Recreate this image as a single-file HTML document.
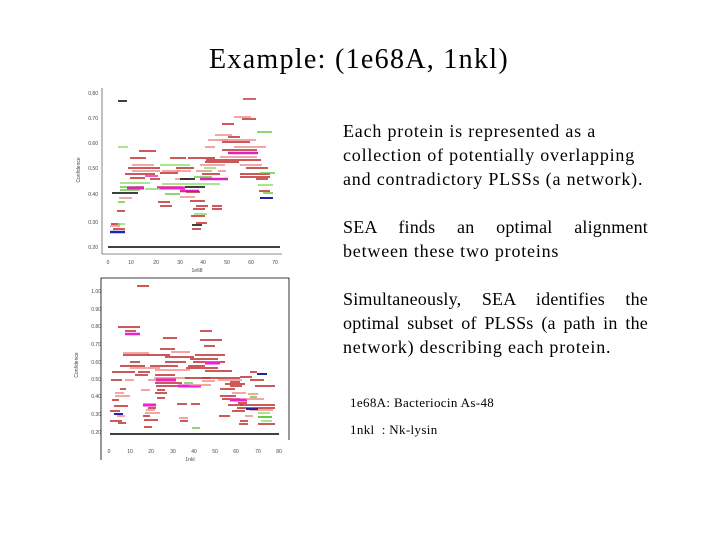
<!DOCTYPE html>
<html><head><meta charset="utf-8"><style>
body{margin:0;width:720px;height:540px;background:#fff;position:relative;overflow:hidden;font-family:"Liberation Serif",serif;color:#000}
.t{position:absolute;white-space:nowrap}
.l{position:absolute;left:343px;width:305px;font-size:18px;letter-spacing:0.8px;line-height:24px;white-space:nowrap}
.j{text-align:justify;text-align-last:justify;white-space:normal;letter-spacing:0.2px;height:24px;overflow:visible}
svg{position:absolute;left:0;top:0}
</style></head><body>
<div class="t" style="left:209px;top:44px;font-size:28px;letter-spacing:1.3px">Example: (1e68A, 1nkl)</div>
<div class="l" style="top:119px">Each protein is represented as a</div>
<div class="l" style="top:143px">collection of potentially overlapping</div>
<div class="l" style="top:167px">and contradictory PLSSs (a network).</div>
<div class="l j" style="top:215px">SEA finds an optimal alignment</div>
<div class="l" style="top:239px">between these two proteins</div>
<div class="l j" style="top:287px">Simultaneously, SEA identifies the</div>
<div class="l j" style="top:311px">optimal subset of PLSSs (a path in the</div>
<div class="l" style="top:335px">network) describing each protein.</div>
<div class="t" style="left:350px;top:395px;font-size:13px;letter-spacing:0.35px">1e68A: Bacteriocin As-48</div>
<div class="t" style="left:350px;top:422px;font-size:13px;letter-spacing:0.35px">1nkl &nbsp;: Nk-lysin</div>
<svg width="720" height="540" font-family="Liberation Sans,sans-serif" font-size="5" fill="#444">
<line x1="102" y1="88" x2="102" y2="254" stroke="#666" stroke-width="0.8"/>
<line x1="102" y1="254" x2="282" y2="254" stroke="#666" stroke-width="0.8"/>
<g text-anchor="end"><text x="98" y="95">0.80</text><text x="98" y="120">0.70</text><text x="98" y="145">0.60</text><text x="98" y="170">0.50</text><text x="98" y="196">0.40</text><text x="98" y="224">0.30</text><text x="98" y="249">0.20</text></g>
<g text-anchor="middle"><text x="108" y="264">0</text><text x="131" y="264">10</text><text x="156" y="264">20</text><text x="180" y="264">30</text><text x="203" y="264">40</text><text x="227" y="264">50</text><text x="251" y="264">60</text><text x="275" y="264">70</text><text x="197" y="272">1e68</text></g>
<text x="80" y="170" transform="rotate(-90 80 170)" text-anchor="middle">Confidence</text>
<g stroke-width="1.5">
<line x1="108" y1="247" x2="280" y2="247" stroke="#000"/>
<line x1="118" y1="101" x2="127" y2="101" stroke="#000"/>
<line x1="243" y1="99" x2="256" y2="99" stroke="#c33"/>
<line x1="234" y1="117" x2="251" y2="117" stroke="#e88"/>
<line x1="242" y1="119" x2="256" y2="119" stroke="#b22"/>
<line x1="222" y1="124" x2="234" y2="124" stroke="#b22"/>
<line x1="257" y1="132" x2="272" y2="132" stroke="#6c4"/>
<line x1="215" y1="135" x2="232" y2="135" stroke="#e88"/>
<line x1="228" y1="137" x2="240" y2="137" stroke="#b22"/>
<line x1="208" y1="140" x2="228" y2="140" stroke="#e88"/>
<line x1="219" y1="140" x2="256" y2="140" stroke="#e88"/>
<line x1="222" y1="142" x2="250" y2="142" stroke="#b22"/>
<line x1="118" y1="147" x2="128" y2="147" stroke="#8d6"/>
<line x1="205" y1="147" x2="215" y2="147" stroke="#e88"/>
<line x1="234" y1="147" x2="266" y2="147" stroke="#e88"/>
<line x1="139" y1="151" x2="156" y2="151" stroke="#b22"/>
<line x1="222" y1="150" x2="257" y2="150" stroke="#b22"/>
<line x1="228" y1="153" x2="258" y2="153" stroke="#d2b" stroke-width="2.5"/>
<line x1="220" y1="157" x2="257" y2="157" stroke="#e88"/>
<line x1="206" y1="160" x2="261" y2="160" stroke="#b22"/>
<line x1="130" y1="158" x2="146" y2="158" stroke="#b22"/>
<line x1="170" y1="158" x2="186" y2="158" stroke="#b22"/>
<line x1="188" y1="158" x2="215" y2="158" stroke="#b22"/>
<line x1="205" y1="162" x2="239" y2="162" stroke="#b22"/>
<line x1="132" y1="165" x2="154" y2="165" stroke="#e88"/>
<line x1="160" y1="165" x2="190" y2="165" stroke="#8d6"/>
<line x1="200" y1="165" x2="225" y2="165" stroke="#e88"/>
<line x1="240" y1="165" x2="262" y2="165" stroke="#e88"/>
<line x1="128" y1="168" x2="160" y2="168" stroke="#b22"/>
<line x1="176" y1="168" x2="194" y2="168" stroke="#b22"/>
<line x1="204" y1="168" x2="216" y2="168" stroke="#8d6"/>
<line x1="246" y1="168" x2="268" y2="168" stroke="#b22"/>
<line x1="132" y1="171" x2="160" y2="171" stroke="#e88"/>
<line x1="162" y1="171" x2="180" y2="171" stroke="#e88"/>
<line x1="175" y1="171" x2="191" y2="171" stroke="#e88"/>
<line x1="196" y1="171" x2="212" y2="171" stroke="#e88"/>
<line x1="218" y1="171" x2="226" y2="171" stroke="#e88"/>
<line x1="125" y1="174" x2="155" y2="174" stroke="#b22"/>
<line x1="160" y1="173" x2="178" y2="173" stroke="#b22"/>
<line x1="202" y1="174" x2="220" y2="174" stroke="#b22"/>
<line x1="240" y1="174" x2="270" y2="174" stroke="#b22"/>
<line x1="260" y1="173" x2="275" y2="173" stroke="#6c4"/>
<line x1="145" y1="176" x2="158" y2="176" stroke="#d2b"/>
<line x1="194" y1="177" x2="212" y2="177" stroke="#6c4"/>
<line x1="240" y1="177" x2="270" y2="177" stroke="#b22"/>
<line x1="130" y1="178" x2="145" y2="178" stroke="#b22"/>
<line x1="150" y1="179" x2="160" y2="179" stroke="#b22"/>
<line x1="175" y1="179" x2="190" y2="179" stroke="#e88"/>
<line x1="180" y1="179" x2="195" y2="179" stroke="#000"/>
<line x1="200" y1="179" x2="228" y2="179" stroke="#d2b" stroke-width="2.5"/>
<line x1="256" y1="179" x2="268" y2="179" stroke="#b22"/>
<line x1="120" y1="183" x2="150" y2="183" stroke="#8d6"/>
<line x1="162" y1="184" x2="195" y2="184" stroke="#8d6"/>
<line x1="195" y1="184" x2="220" y2="184" stroke="#8d6"/>
<line x1="258" y1="185" x2="273" y2="185" stroke="#8d6"/>
<line x1="120" y1="187" x2="135" y2="187" stroke="#6c4"/>
<line x1="135" y1="187" x2="144" y2="187" stroke="#b22"/>
<line x1="157" y1="187" x2="183" y2="187" stroke="#b22"/>
<line x1="185" y1="187" x2="205" y2="187" stroke="#000"/>
<line x1="127" y1="188" x2="144" y2="188" stroke="#d2b" stroke-width="3"/>
<line x1="157" y1="188" x2="185" y2="188" stroke="#e2c" stroke-width="3"/>
<line x1="120" y1="190" x2="140" y2="190" stroke="#6c4"/>
<line x1="145" y1="189" x2="160" y2="189" stroke="#8d6"/>
<line x1="180" y1="191" x2="199" y2="191" stroke="#d2b" stroke-width="2.5"/>
<line x1="186" y1="192" x2="200" y2="192" stroke="#b22"/>
<line x1="259" y1="191" x2="270" y2="191" stroke="#b22"/>
<line x1="263" y1="193" x2="273" y2="193" stroke="#6c4"/>
<line x1="112" y1="193" x2="138" y2="193" stroke="#000"/>
<line x1="165" y1="194" x2="180" y2="194" stroke="#6c4"/>
<line x1="119" y1="198" x2="132" y2="198" stroke="#e88"/>
<line x1="180" y1="197" x2="195" y2="197" stroke="#e88"/>
<line x1="260" y1="198" x2="273" y2="198" stroke="#22a" stroke-width="2"/>
<line x1="118" y1="202" x2="125" y2="202" stroke="#6c4"/>
<line x1="158" y1="202" x2="170" y2="202" stroke="#b22"/>
<line x1="190" y1="201" x2="205" y2="201" stroke="#b22"/>
<line x1="160" y1="206" x2="172" y2="206" stroke="#b22"/>
<line x1="196" y1="206" x2="208" y2="206" stroke="#b22"/>
<line x1="212" y1="206" x2="222" y2="206" stroke="#b22"/>
<line x1="193" y1="209" x2="205" y2="209" stroke="#b22"/>
<line x1="212" y1="209" x2="222" y2="209" stroke="#b22"/>
<line x1="117" y1="211" x2="125" y2="211" stroke="#b22"/>
<line x1="194" y1="214" x2="207" y2="214" stroke="#8d6"/>
<line x1="191" y1="216" x2="205" y2="216" stroke="#b22"/>
<line x1="111" y1="224" x2="120" y2="224" stroke="#b22"/>
<line x1="118" y1="224" x2="125" y2="224" stroke="#8d6"/>
<line x1="110" y1="226" x2="120" y2="226" stroke="#e88"/>
<line x1="192" y1="225" x2="202" y2="225" stroke="#000"/>
<line x1="196" y1="223" x2="207" y2="223" stroke="#b22"/>
<line x1="113" y1="229" x2="125" y2="229" stroke="#b22"/>
<line x1="192" y1="229" x2="201" y2="229" stroke="#b22"/>
<line x1="110" y1="232" x2="125" y2="232" stroke="#22a" stroke-width="2.5"/>
</g>
<polyline points="101,460 101,278 289,278 289,440" fill="none" stroke="#000" stroke-width="0.8"/>
<g text-anchor="end"><text x="101" y="293">1.00</text><text x="101" y="311">0.90</text><text x="101" y="328">0.80</text><text x="101" y="346">0.70</text><text x="101" y="364">0.60</text><text x="101" y="381">0.50</text><text x="101" y="398">0.40</text><text x="101" y="416">0.30</text><text x="101" y="434">0.20</text></g>
<g text-anchor="middle"><text x="109" y="453">0</text><text x="130" y="453">10</text><text x="151" y="453">20</text><text x="173" y="453">30</text><text x="194" y="453">40</text><text x="215" y="453">50</text><text x="236" y="453">60</text><text x="258" y="453">70</text><text x="279" y="453">80</text><text x="190" y="461">1nkl</text></g>
<text x="78" y="365" transform="rotate(-90 78 365)" text-anchor="middle">Confidence</text>
<g stroke-width="1.5">
<line x1="110" y1="434" x2="279" y2="434" stroke="#000"/>
<line x1="137" y1="286" x2="149" y2="286" stroke="#b22"/>
<line x1="118" y1="327" x2="140" y2="327" stroke="#b22"/>
<line x1="125" y1="331" x2="136" y2="331" stroke="#b22"/>
<line x1="125" y1="334" x2="140" y2="334" stroke="#e2c" stroke-width="2.5"/>
<line x1="200" y1="331" x2="212" y2="331" stroke="#b22"/>
<line x1="163" y1="338" x2="177" y2="338" stroke="#b22"/>
<line x1="200" y1="340" x2="222" y2="340" stroke="#b22"/>
<line x1="204" y1="346" x2="215" y2="346" stroke="#b22"/>
<line x1="160" y1="349" x2="175" y2="349" stroke="#b22"/>
<line x1="171" y1="352" x2="190" y2="352" stroke="#e88"/>
<line x1="123" y1="353" x2="149" y2="353" stroke="#e88"/>
<line x1="123" y1="355" x2="149" y2="355" stroke="#b22"/>
<line x1="148" y1="355" x2="170" y2="355" stroke="#b22"/>
<line x1="165" y1="357" x2="194" y2="357" stroke="#b22"/>
<line x1="195" y1="355" x2="225" y2="355" stroke="#b22"/>
<line x1="190" y1="359" x2="218" y2="359" stroke="#b22"/>
<line x1="193" y1="362" x2="225" y2="362" stroke="#b22"/>
<line x1="205" y1="363" x2="220" y2="363" stroke="#e2c" stroke-width="3"/>
<line x1="130" y1="362" x2="140" y2="362" stroke="#b22"/>
<line x1="165" y1="362" x2="186" y2="362" stroke="#b22"/>
<line x1="188" y1="366" x2="205" y2="366" stroke="#b22"/>
<line x1="120" y1="366" x2="145" y2="366" stroke="#b22"/>
<line x1="130" y1="368" x2="160" y2="368" stroke="#e88"/>
<line x1="150" y1="366" x2="178" y2="366" stroke="#b22"/>
<line x1="155" y1="370" x2="190" y2="370" stroke="#e88"/>
<line x1="186" y1="368" x2="218" y2="368" stroke="#b22"/>
<line x1="205" y1="371" x2="232" y2="371" stroke="#b22"/>
<line x1="112" y1="372" x2="135" y2="372" stroke="#b22"/>
<line x1="138" y1="372" x2="150" y2="372" stroke="#b22"/>
<line x1="250" y1="372" x2="257" y2="372" stroke="#b22"/>
<line x1="135" y1="375" x2="148" y2="375" stroke="#b22"/>
<line x1="155" y1="375" x2="175" y2="375" stroke="#b22"/>
<line x1="240" y1="377" x2="252" y2="377" stroke="#b22"/>
<line x1="257" y1="374" x2="267" y2="374" stroke="#22a" stroke-width="2"/>
<line x1="154" y1="378" x2="190" y2="378" stroke="#e88"/>
<line x1="185" y1="378" x2="210" y2="378" stroke="#b22"/>
<line x1="202" y1="378" x2="240" y2="378" stroke="#b22"/>
<line x1="125" y1="380" x2="134" y2="380" stroke="#e88"/>
<line x1="148" y1="380" x2="173" y2="380" stroke="#e88"/>
<line x1="202" y1="381" x2="215" y2="381" stroke="#e88"/>
<line x1="218" y1="380" x2="242" y2="380" stroke="#e88"/>
<line x1="155" y1="383" x2="182" y2="383" stroke="#b22"/>
<line x1="184" y1="383" x2="193" y2="383" stroke="#6c4"/>
<line x1="156" y1="380" x2="176" y2="380" stroke="#e2c" stroke-width="3"/>
<line x1="111" y1="380" x2="122" y2="380" stroke="#b22"/>
<line x1="250" y1="380" x2="264" y2="380" stroke="#b22"/>
<line x1="230" y1="382" x2="240" y2="382" stroke="#b22"/>
<line x1="156" y1="386" x2="190" y2="386" stroke="#b22"/>
<line x1="178" y1="386" x2="201" y2="386" stroke="#e2c" stroke-width="3"/>
<line x1="190" y1="385" x2="211" y2="385" stroke="#e88"/>
<line x1="225" y1="384" x2="245" y2="384" stroke="#b22"/>
<line x1="230" y1="386" x2="242" y2="386" stroke="#b22"/>
<line x1="220" y1="389" x2="235" y2="389" stroke="#b22"/>
<line x1="255" y1="386" x2="275" y2="386" stroke="#b22"/>
<line x1="120" y1="389" x2="126" y2="389" stroke="#b22"/>
<line x1="115" y1="393" x2="124" y2="393" stroke="#e88"/>
<line x1="141" y1="390" x2="150" y2="390" stroke="#e88"/>
<line x1="157" y1="390" x2="165" y2="390" stroke="#b22"/>
<line x1="155" y1="393" x2="167" y2="393" stroke="#b22"/>
<line x1="115" y1="396" x2="130" y2="396" stroke="#e88"/>
<line x1="232" y1="393" x2="246" y2="393" stroke="#e88"/>
<line x1="248" y1="394" x2="258" y2="394" stroke="#e88"/>
<line x1="250" y1="397" x2="257" y2="397" stroke="#6c4"/>
<line x1="220" y1="396" x2="236" y2="396" stroke="#b22"/>
<line x1="157" y1="398" x2="165" y2="398" stroke="#b22"/>
<line x1="112" y1="400" x2="119" y2="400" stroke="#b22"/>
<line x1="222" y1="399" x2="240" y2="399" stroke="#b22"/>
<line x1="230" y1="400" x2="247" y2="400" stroke="#e2c" stroke-width="3"/>
<line x1="246" y1="399" x2="264" y2="399" stroke="#e88"/>
<line x1="238" y1="403" x2="247" y2="403" stroke="#b22"/>
<line x1="114" y1="406" x2="128" y2="406" stroke="#b22"/>
<line x1="143" y1="405" x2="156" y2="405" stroke="#e2c" stroke-width="3"/>
<line x1="177" y1="404" x2="187" y2="404" stroke="#b22"/>
<line x1="191" y1="404" x2="200" y2="404" stroke="#b22"/>
<line x1="228" y1="405" x2="243" y2="405" stroke="#b22"/>
<line x1="240" y1="405" x2="275" y2="405" stroke="#b22"/>
<line x1="148" y1="408" x2="156" y2="408" stroke="#b22"/>
<line x1="146" y1="410" x2="155" y2="410" stroke="#e88"/>
<line x1="237" y1="408" x2="275" y2="408" stroke="#b22"/>
<line x1="250" y1="410" x2="273" y2="410" stroke="#e88"/>
<line x1="246" y1="409" x2="258" y2="409" stroke="#22a" stroke-width="2"/>
<line x1="110" y1="411" x2="120" y2="411" stroke="#b22"/>
<line x1="232" y1="411" x2="245" y2="411" stroke="#b22"/>
<line x1="145" y1="413" x2="160" y2="413" stroke="#e88"/>
<line x1="258" y1="413" x2="270" y2="413" stroke="#8d6"/>
<line x1="114" y1="414" x2="123" y2="414" stroke="#22a" stroke-width="2"/>
<line x1="117" y1="416" x2="125" y2="416" stroke="#e88"/>
<line x1="143" y1="416" x2="150" y2="416" stroke="#b22"/>
<line x1="219" y1="416" x2="230" y2="416" stroke="#b22"/>
<line x1="245" y1="416" x2="253" y2="416" stroke="#e88"/>
<line x1="258" y1="417" x2="272" y2="417" stroke="#6c4" stroke-width="2"/>
<line x1="179" y1="418" x2="188" y2="418" stroke="#e88"/>
<line x1="144" y1="420" x2="158" y2="420" stroke="#b22"/>
<line x1="110" y1="421" x2="122" y2="421" stroke="#b22"/>
<line x1="180" y1="421" x2="188" y2="421" stroke="#b22"/>
<line x1="240" y1="421" x2="248" y2="421" stroke="#b22"/>
<line x1="261" y1="421" x2="272" y2="421" stroke="#8d6"/>
<line x1="118" y1="423" x2="126" y2="423" stroke="#b22"/>
<line x1="239" y1="424" x2="248" y2="424" stroke="#b22"/>
<line x1="258" y1="424" x2="275" y2="424" stroke="#b22"/>
<line x1="144" y1="427" x2="152" y2="427" stroke="#b22"/>
<line x1="192" y1="428" x2="200" y2="428" stroke="#6c4"/>
</g>
</svg>
</body></html>
